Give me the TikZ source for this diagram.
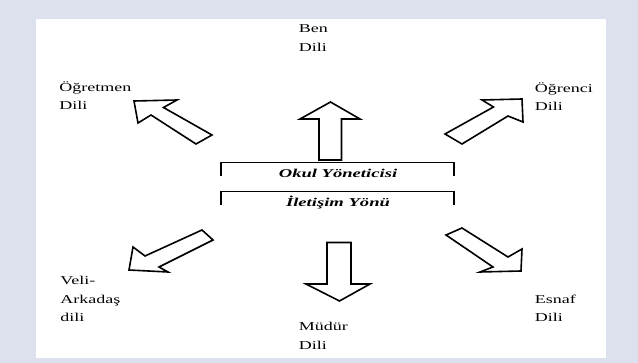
\documentclass[tikz,border=0pt]{standalone}
\usepackage{fontspec}
\setmainfont{Liberation Serif}
\definecolor{bglav}{RGB}{221,225,238}
\tikzset{
  lbl/.style={anchor=base west, inner sep=0pt, xscale=1.5, font=\fontsize{12}{14}\selectfont},
  ttl/.style={anchor=base, inner sep=0pt, xscale=1.55, font=\fontsize{12}{14}\selectfont\bfseries\itshape},
  blockarrow/.style={draw=black, fill=white, line width=1.6pt, line join=miter},
  bracketline/.style={draw=black, line width=1.2pt}
}
\begin{document}
\begin{tikzpicture}[x=1pt, y=-1pt]
\useasboundingbox (0,0) rectangle (638,363);
\fill[bglav] (0,0) rectangle (638,363);
\fill[white] (36,19) rectangle (606,358);

% block arrows
\draw[blockarrow] (319,160) -- (319,119) -- (300,119) -- (330.5,102) -- (360,119) -- (341.5,119) -- (341.5,160) -- cycle;
\draw[blockarrow] (327,242.5) -- (327,284) -- (306,284) -- (339.5,301) -- (370,284) -- (351,284) -- (351,242.5) -- cycle;
\draw[blockarrow] (134,101) -- (177,100) -- (163.5,107.5) -- (212,135) -- (196,144) -- (151,115) -- (138,123) -- cycle;
\draw[blockarrow] (522,99) -- (482,100) -- (493.5,107) -- (445,134) -- (462,144) -- (508,116) -- (523,122) -- cycle;
\draw[blockarrow] (129,270) -- (133,247) -- (145,256) -- (202,230) -- (213,240) -- (159,267) -- (168,272) -- cycle;
\draw[blockarrow] (521,271) -- (522,249) -- (508,257) -- (462,228) -- (446,235) -- (493,267) -- (480,272) -- cycle;

% brackets
\draw[bracketline] (221,176) -- (221,162.3) -- (454,162.3) -- (454,176);
\draw[bracketline] (221,205) -- (221,191.7) -- (454,191.7) -- (454,205);
\node[ttl] (okul) at (338,177.5) {Okul Yöneticisi};
\node[ttl] (yon) at (338,206.5) {İletişim Yönü};

% labels
\node[lbl] (ben1) at (298.5,33) {Ben};
\node[lbl] (ben2) at (298.5,52) {Dili};
\node[lbl] (ogr1) at (59,92) {Öğretmen};
\node[lbl] (ogr2) at (59,110) {Dili};
\node[lbl] (ogc1) at (534.5,93) {Öğrenci};
\node[lbl] (ogc2) at (534.5,111) {Dili};
\node[lbl] (vel1) at (60,285) {Veli-};
\node[lbl] (vel2) at (60,304) {Arkadaş};
\node[lbl] (vel3) at (60,322) {dili};
\node[lbl] (esn1) at (534.5,304) {Esnaf};
\node[lbl] (esn2) at (534.5,322) {Dili};
\node[lbl] (mud1) at (298.5,331) {Müdür};
\node[lbl] (mud2) at (298.5,350) {Dili};
\end{tikzpicture}
\end{document}
